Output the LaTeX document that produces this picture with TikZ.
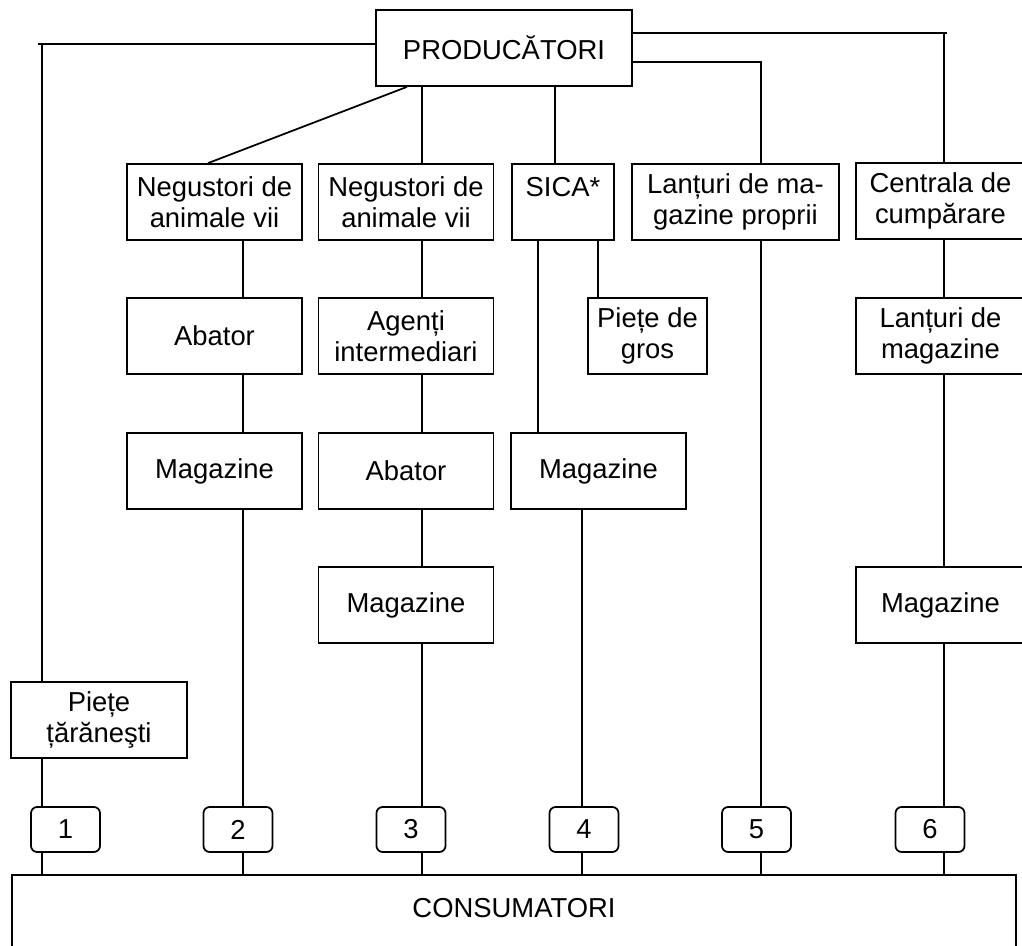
\documentclass[tikz,border=0pt]{standalone}
\usepackage{fontspec}
\setmainfont{Liberation Sans}
\usetikzlibrary{calc}

\begin{document}
\begin{tikzpicture}[x=0.02cm,y=-0.02cm,line width=1pt,
 font=\fontsize{15.6}{17.5}\selectfont,
 stage/.style={draw,align=center,minimum width=3.5cm,minimum height=1.52cm,inner sep=2pt},
 channel/.style={draw,rounded corners=3.5pt,minimum width=1.38cm,minimum height=0.9cm,inner sep=0pt},
 market/.style={draw,anchor=north,minimum width=20.08cm,inner sep=0pt,text height=0.85cm,text depth=0.7cm}]
\useasboundingbox (0,0) rectangle (1022,946);
\node[stage,minimum width=5.12cm] (prod) at (504,48) {PRODUCĂTORI};
\node[stage] (neg1) at (214.5,202) {Negustori de\\animale vii};
\node[stage] (neg2) at (406,202) {Negustori de\\animale vii};
\node[stage,minimum width=2.04cm] (sica) at (563,202) {SICA*\\~};
\node[stage,minimum width=4.14cm] (lant) at (735.5,202) {Lanțuri de ma-\\gazine proprii};
\node[stage,minimum width=3.38cm] (centr) at (940.5,201) {Centrala de\\cumpărare};
\node[stage] (abat1) at (214.5,336) {Abator};
\node[stage] (agent) at (406,336) {Agenți\\intermediari};
\node[stage,minimum width=2.38cm] (gros) at (647.5,336) {Piețe de\\gros};
\node[stage,minimum width=3.38cm] (lmag) at (940.5,336) {Lanțuri de\\magazine};
\node[stage] (mag2) at (214.5,471) {Magazine};
\node[stage] (abat2) at (406,471) {Abator};
\node[stage] (mag4) at (598.5,471) {Magazine};
\node[stage] (mag3) at (406,605) {Magazine};
\node[stage,minimum width=3.38cm] (mag6) at (940.5,605) {Magazine};
\node[stage,minimum width=3.52cm] (piete) at (99,720) {Piețe\\țărăneşti};
\foreach \i/\x in {1/65.5,2/238,3/411,4/584,5/756.5,6/930}
  \node[channel] (n\i) at (\x,829.5) {\i};
\node[market] (cons) at (514,874) {CONSUMATORI};
\foreach \n/\x in {x1/42,x2/243,x3/422,x4/582,x5/761,x6/944,xs/555,sa/538,sb/598,da/407,db/208}
  \coordinate (\n) at (\x,0);
\coordinate (lt) at (38,44);
\coordinate (rt) at (947,33);
\coordinate (rm) at (761,62);
\draw (prod.west |- lt) -- (lt);
\draw (lt -| x1) -- (piete.north -| x1);
\draw (prod.south -| da) -- (neg1.north -| db);
\draw (prod.south -| xs) -- (sica.north -| xs);
\draw (prod.east |- rm) -- (rm) -- (lant.north -| x5);
\draw (prod.east |- rt) -- (rt);
\draw (rt -| x6) -- (centr.north -| x6);
\draw (sica.south -| sa) -- (mag4.north -| sa);
\draw (sica.south -| sb) -- (gros.north -| sb);
\foreach \a/\b in {piete/n1,n1/cons}
  \draw (\a.south -| x1) -- (\b.north -| x1);
\foreach \a/\b in {neg1/abat1,abat1/mag2,mag2/n2,n2/cons}
  \draw (\a.south -| x2) -- (\b.north -| x2);
\foreach \a/\b in {prod/neg2,neg2/agent,agent/abat2,abat2/mag3,mag3/n3,n3/cons}
  \draw (\a.south -| x3) -- (\b.north -| x3);
\foreach \a/\b in {mag4/n4,n4/cons}
  \draw (\a.south -| x4) -- (\b.north -| x4);
\foreach \a/\b in {lant/n5,n5/cons}
  \draw (\a.south -| x5) -- (\b.north -| x5);
\foreach \a/\b in {centr/lmag,lmag/mag6,mag6/n6,n6/cons}
  \draw (\a.south -| x6) -- (\b.north -| x6);
\end{tikzpicture}
\end{document}
